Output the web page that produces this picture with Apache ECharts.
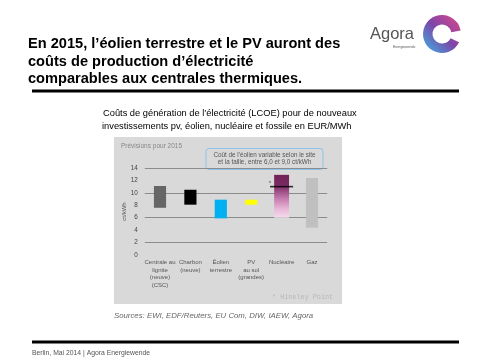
<!DOCTYPE html>
<html><head><meta charset="utf-8">
<script src="https://cdn.jsdelivr.net/npm/echarts@6/dist/echarts.min.js"></script>
<style>html,body{margin:0;padding:0;background:#fff}#c{width:481px;height:360px}</style>
</head><body><div id="c"></div>
<script>
var categories = ['Centrale au\nlignite\n(neuve)\n(CSC)', 'Charbon\n(neuve)', 'Éolien\nterrestre', 'PV\nau sol\n(grandes)', 'Nucléaire', 'Gaz'];
var lowValues = [7.6, 8.1, 5.9, 8.1, 6.0, 4.4];
var highValues = [11.1, 10.5, 8.9, 8.9, 12.9, 12.4];
var hinkleyValue = 11.0;
var gridValues = [2, 6, 10, 14];
var barColors = ['#666666', '#000000', '#00b0f0', '#ffff00', 'nuclear', '#c0c0c0'];

var chart = echarts.init(document.getElementById('c'));
var nuclearGrad = new echarts.graphic.LinearGradient(0, 0, 0, 1, [
  {offset: 0, color: '#6f2258'}, {offset: 0.25, color: '#7c2b64'},
  {offset: 0.55, color: '#c47aac'}, {offset: 0.8, color: '#e8b8d8'}, {offset: 1, color: '#f4dcec'}]);
var ringGrad = new echarts.graphic.LinearGradient(1, 0, 0, 1, [
  {offset: 0, color: '#e2478a'}, {offset: 0.5, color: '#7d46a8'}, {offset: 1, color: '#38b6e8'}]);

var rangeData = categories.map(function (c, i) { return [i, lowValues[i], highValues[i]]; });

chart.setOption({
  animation: false,
  backgroundColor: '#ffffff',
  grid: {left: 144.8, right: 153.8, top: 168, bottom: 105},
  xAxis: {
    type: 'category', data: categories,
    axisLine: {show: false}, axisTick: {show: false},
    axisLabel: {interval: 0, fontSize: 6, lineHeight: 7.4, color: '#555', margin: 4, fontFamily: 'Liberation Sans'}
  },
  yAxis: {
    type: 'value', min: 0, max: 14, interval: 2,
    splitLine: {show: false}, axisLine: {show: false}, axisTick: {show: false},
    axisLabel: {fontSize: 6.3, color: '#444', margin: 7, fontFamily: 'Liberation Sans'},
    name: 'ct/kWh', nameLocation: 'middle', nameGap: 15, nameRotate: 90,
    nameTextStyle: {fontSize: 6, color: '#555', fontFamily: 'Liberation Sans'}
  },
  graphic: [
    {type: 'rect', shape: {x: 114, y: 137, width: 228, height: 167}, style: {fill: '#d9d9d9'}, z: -10},
    {type: 'text', x: 28, y: 44, style: {text: 'En 2015, l\u2019éolien terrestre et le PV auront des', font: 'bold 14.6px "Liberation Sans"', fill: '#000', textVerticalAlign: 'middle'}},
    {type: 'text', x: 28, y: 61.5, style: {text: 'coûts de production d\u2019électricité', font: 'bold 14.6px "Liberation Sans"', fill: '#000', textVerticalAlign: 'middle'}},
    {type: 'text', x: 28, y: 79, style: {text: 'comparables aux centrales thermiques.', font: 'bold 14.6px "Liberation Sans"', fill: '#000', textVerticalAlign: 'middle'}},
    {type: 'rect', shape: {x: 32, y: 89.5, width: 427, height: 3}, style: {fill: '#000'}},
    {type: 'text', x: 370, y: 34, style: {text: 'Agora', font: '16.5px "Liberation Sans"', fill: '#555', textVerticalAlign: 'middle'}},
    {type: 'text', x: 393, y: 47, style: {text: 'Energiewende', font: '3.5px "Liberation Sans"', fill: '#555', textVerticalAlign: 'middle'}},
    {type: 'sector', shape: {cx: 442, cy: 34, r: 19, r0: 9.5, startAngle: 0.45, endAngle: 6.1, clockwise: true}, style: {fill: ringGrad}},
    {type: 'text', x: 103, y: 113, style: {text: 'Coûts de génération de l\u2019électricité (LCOE) pour de nouveaux', font: '9.3px "Liberation Sans"', fill: '#000', textVerticalAlign: 'middle'}},
    {type: 'text', x: 102, y: 126, style: {text: 'investissements pv, éolien, nucléaire et fossile en EUR/MWh', font: '9.3px "Liberation Sans"', fill: '#000', textVerticalAlign: 'middle'}},
    {type: 'text', x: 121, y: 146, style: {text: 'Prévisions pour 2015', font: '6.5px "Liberation Sans"', fill: '#888', textVerticalAlign: 'middle'}},
    {type: 'rect', shape: {x: 206, y: 148.5, width: 117, height: 21, r: 3}, style: {fill: 'none', stroke: '#8ec4ea', lineWidth: 1}},
    {type: 'text', x: 264.5, y: 155, style: {text: 'Coût de l\u2019éolien variable selon le site', font: '6.3px "Liberation Sans"', fill: '#555', textAlign: 'center', textVerticalAlign: 'middle'}},
    {type: 'text', x: 264.5, y: 162.5, style: {text: 'et la taille, entre 6,0 et 9,0 ct/kWh', font: '6.3px "Liberation Sans"', fill: '#555', textAlign: 'center', textVerticalAlign: 'middle'}},
    {type: 'text', x: 272, y: 297, style: {text: '* Hinkley Point', font: '6.8px "Liberation Mono"', fill: '#b8b8b8', textVerticalAlign: 'middle'}},
    {type: 'text', x: 114, y: 316, style: {text: 'Sources: EWI, EDF/Reuters, EU Com, DIW, IAEW, Agora', font: 'italic 7.8px "Liberation Sans"', fill: '#666', textVerticalAlign: 'middle'}},
    {type: 'rect', shape: {x: 32, y: 340.5, width: 427, height: 3}, style: {fill: '#000'}},
    {type: 'text', x: 32, y: 353, style: {text: 'Berlin, Mai 2014 | Agora Energiewende', font: '6.8px "Liberation Sans"', fill: '#555', textVerticalAlign: 'middle'}}
  ],
  series: [
    {
      type: 'custom', z: 3,
      data: rangeData,
      encode: {x: 0, y: [1, 2]},
      renderItem: function (params, api) {
        var i = api.value(0);
        var p1 = api.coord([i, api.value(1)]);
        var p2 = api.coord([i, api.value(2)]);
        var bw = api.size([1, 0])[0];
        var w = barColors[i] === 'nuclear' ? bw * 0.49 : bw * 0.4;
        return {
          type: 'rect',
          shape: {x: p1[0] - w / 2, y: p2[1], width: w, height: p1[1] - p2[1]},
          style: {fill: barColors[i] === 'nuclear' ? nuclearGrad : barColors[i]}
        };
      },
      markLine: {
        silent: true, symbol: 'none', label: {show: false},
        lineStyle: {color: '#8c8c8c', width: 1.2, type: 'solid'},
        data: gridValues.map(function (v) { return {yAxis: v}; }),
        z: 1
      }
    },
    {
      type: 'scatter', z: 5,
      data: [[4, hinkleyValue]],
      symbol: 'rect', symbolSize: [23, 1.6],
      itemStyle: {color: '#000'},
      label: {show: true, formatter: '*', position: 'left', distance: -1, offset: [0, -3], fontSize: 6, color: '#222'}
    }
  ]
});
</script></body></html>
